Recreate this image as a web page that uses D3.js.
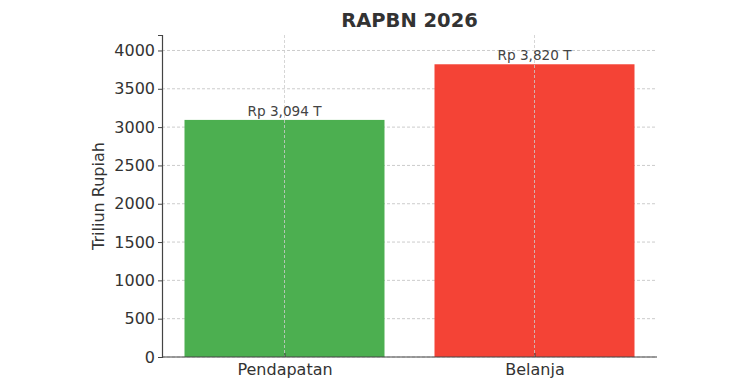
<!DOCTYPE html>
<html>
<head>
<meta charset="utf-8">
<script src="https://cdn.jsdelivr.net/npm/d3@7"></script>
<style>
  body { margin: 0; background: #fff; }
  svg text { font-family: "DejaVu Sans", sans-serif; fill: #333; }
</style>
</head>
<body>
<div class="chart"></div>
<script>
const categories = ["Pendapatan", "Belanja"];
const values = [3094, 3820];
const labels = ["Rp 3,094 T", "Rp 3,820 T"];
const colors = ["#4CAF50", "#F44336"];
const yTicks = [0, 500, 1000, 1500, 2000, 2500, 3000, 3500, 4000];

const W = 750, H = 390;
const margin = { top: 35, right: 93, bottom: 33, left: 162 };
const width = W - margin.left - margin.right,
  height = H - margin.top - margin.bottom;

const svg = d3
  .select(".chart")
  .append("svg")
  .attr("width", W)
  .attr("height", H);

const g = svg.append("g").attr("transform", `translate(${margin.left},${margin.top})`);

// linear x like matplotlib's categorical axis (-0.49 .. 1.49)
const x = d3.scaleLinear().domain([-0.49, 1.49]).range([0, width]);
const y = d3.scaleLinear().domain([0, d3.max(values) * 1.1]).range([height, 0]);
const bw = x(0.4) - x(0);

// grid
g.append("g")
  .selectAll("line")
  .data(yTicks)
  .join("line")
  .attr("x1", 0)
  .attr("x2", width)
  .attr("y1", (d) => y(d))
  .attr("y2", (d) => y(d))
  .attr("stroke", "#ccc")
  .attr("stroke-dasharray", "3,2");

// bars
g.selectAll("rect")
  .data(values)
  .join("rect")
  .attr("x", (d, i) => x(i) - bw)
  .attr("width", bw * 2)
  .attr("y", (d) => y(d))
  .attr("height", (d) => height - y(d))
  .attr("fill", (d, i) => colors[i]);

g.append("g")
  .selectAll("line")
  .data(categories)
  .join("line")
  .attr("x1", (d, i) => x(i))
  .attr("x2", (d, i) => x(i))
  .attr("y1", 0)
  .attr("y2", height)
  .attr("stroke", "#ccc")
  .attr("stroke-opacity", 0.8)
  .attr("stroke-dasharray", "3,2");

// value labels
g.selectAll(".val")
  .data(values)
  .join("text")
  .attr("class", "val")
  .attr("x", (d, i) => x(i))
  .attr("y", (d) => y(d) - 4)
  .attr("text-anchor", "middle")
  .attr("font-size", 13.6)
  .style("fill", "#444")
  .text((d, i) => labels[i]);

// axes
const yAxis = g.append("g")
  .call(d3.axisLeft(y).tickValues(yTicks).tickSize(4).tickPadding(3).tickFormat(d3.format("d")));
yAxis.select(".domain").attr("stroke", "#444").attr("stroke-width", 1.2);
yAxis.selectAll(".tick line").attr("stroke", "#444");
yAxis.selectAll(".tick text").attr("font-size", 16).style("fill", "#333");

const xAxis = g.append("g")
  .attr("transform", `translate(0,${height})`)
  .call(d3.axisBottom(x).tickValues([0, 1]).tickSize(-4).tickPadding(8).tickFormat((d) => categories[d]));
xAxis.select(".domain").attr("d", `M0,0H${width}`).attr("stroke", "#444").attr("stroke-width", 1.2);
xAxis.selectAll(".tick line").attr("stroke", "#444");
xAxis.selectAll(".tick text").attr("font-size", 16).attr("y", 18).attr("dy", 0).style("fill", "#333");

// title
svg.append("text")
  .attr("x", margin.left + width / 2)
  .attr("y", 26.5)
  .attr("text-anchor", "middle")
  .attr("font-size", 19.5)
  .attr("font-weight", "bold")
  .text("RAPBN 2026");

// y label
svg.append("text")
  .attr("transform", `translate(104,${margin.top + height / 2}) rotate(-90)`)
  .attr("text-anchor", "middle")
  .attr("font-size", 16)
  .text("Triliun Rupiah");
</script>
</body>
</html>
